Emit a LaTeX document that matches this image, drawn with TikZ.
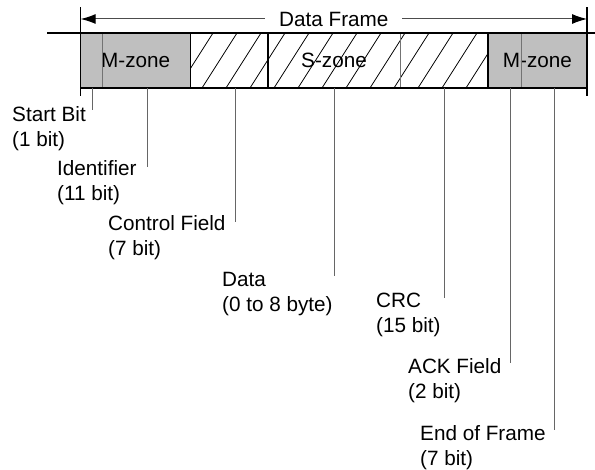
\documentclass[tikz,border=0pt]{standalone}
\usepackage{fontspec}
\setmainfont{Liberation Sans}
\usetikzlibrary{arrows.meta,positioning}

\begin{document}
\begin{tikzpicture}[x=1pt,y=-1pt,
  fld/.style={minimum height=55pt,inner sep=0pt,outer sep=0pt},
  zone/.style={inner sep=0pt,font=\fontsize{20.7}{25}\selectfont},
  lbl/.style={align=left,inner sep=0pt,anchor=north west,font=\fontsize{20.7}{25}\selectfont},
  edge/.style={line width=1.4pt,line cap=rect},
  inner/.style={draw=black!55,line width=1pt},
  lead/.style={draw=black!60,line width=1pt},
  hatch/.style={line width=0.8pt}]
\useasboundingbox (0,0) rectangle (595,470);

% fields of the frame
\node[fld,anchor=north west,minimum width=22pt] (sb) at (80.7,33) {};
\node[fld,minimum width=88pt,right=0pt of sb] (id) {};
\node[fld,minimum width=77.3pt,right=0pt of id] (ctl) {};
\node[fld,minimum width=132pt,right=0pt of ctl] (data) {};
\node[fld,minimum width=88pt,right=0pt of data] (crc) {};
\node[fld,minimum width=33pt,right=0pt of crc] (ack) {};
\node[fld,minimum width=66pt,right=0pt of ack] (eof) {};

\fill[black!25] (sb.north west) rectangle (id.south east);
\fill[black!25] (ack.north west) rectangle (eof.south east);
\begin{scope}
\clip (ctl.north west) rectangle (crc.south east);
\foreach \x in {154,178,...,490}
  \draw[hatch] (\x,88) -- ++(35,-55);
\end{scope}

\path (sb.west) -- node[zone] (mz1) {M-zone} (id.east);
\node[zone] (sz) at (data) {S-zone};
\path (ack.west) -- node[zone] (mz2) {M-zone} (eof.east);

\draw[inner] (sb.north east) -- (sb.south east);
\draw[inner] (data.north east) -- (data.south east);
\draw[inner] (ack.north east) -- (ack.south east);
\draw[edge] (id.north east) -- (id.south east);
\draw[edge] (ctl.north east) -- (ctl.south east);
\draw[edge] (crc.north east) -- (crc.south east);

% outline
\coordinate (tl) at (48,33);
\coordinate (tr) at (594,33);
\coordinate (lt) at (80.7,8);
\coordinate (lb) at (80.7,95);
\coordinate (rt) at (587,8);
\coordinate (rb) at (587,95);
\draw[edge] (tl) -- (tr);
\draw[edge] (sb.south west) -- (eof.south east);
\draw[edge] (lt) -- (lb);
\draw[edge] (rt) -- (rb);

% data frame arrow
\coordinate (al) at (80.7,19);
\coordinate (ar) at (587,19);
\draw[black!70,line width=1pt,{Latex[length=15pt,width=10pt,black]}-{Latex[length=15pt,width=10pt,black]}]
  (al) -- node[fill=white,inner xsep=14pt,font=\fontsize{20.7}{25}\selectfont,text=black] (df) {Data Frame} (ar);

% leaders
\coordinate (sbE) at (92,110);
\coordinate (idE) at (147,167);
\coordinate (ctlE) at (235,222);
\coordinate (datE) at (334,276);
\coordinate (crcE) at (444,298);
\coordinate (ackE) at (510,363);
\coordinate (eofE) at (554,430);
\draw[lead] (sbE |- sb.south) -- (sbE);
\draw[lead] (idE |- id.south) -- (idE);
\draw[lead] (ctlE |- ctl.south) -- (ctlE);
\draw[lead] (datE |- data.south) -- (datE);
\draw[lead] (crcE |- crc.south) -- (crcE);
\draw[lead] (ackE |- ack.south) -- (ackE);
\draw[lead] (eofE |- eof.south) -- (eofE);

% labels
\node[lbl] (sbl) at (12,106) {Start Bit\\(1 bit)};
\node[lbl] (idl) at (57,160) {Identifier\\(11 bit)};
\node[lbl] (ctll) at (108,215) {Control Field\\(7 bit)};
\node[lbl] (datl) at (222,272) {Data\\(0 to 8 byte)};
\node[lbl] (crcl) at (376,293) {CRC\\(15 bit)};
\node[lbl] (ackl) at (408,358) {ACK Field\\(2 bit)};
\node[lbl] (eofl) at (420,425) {End of Frame\\(7 bit)};
\end{tikzpicture}
\end{document}
